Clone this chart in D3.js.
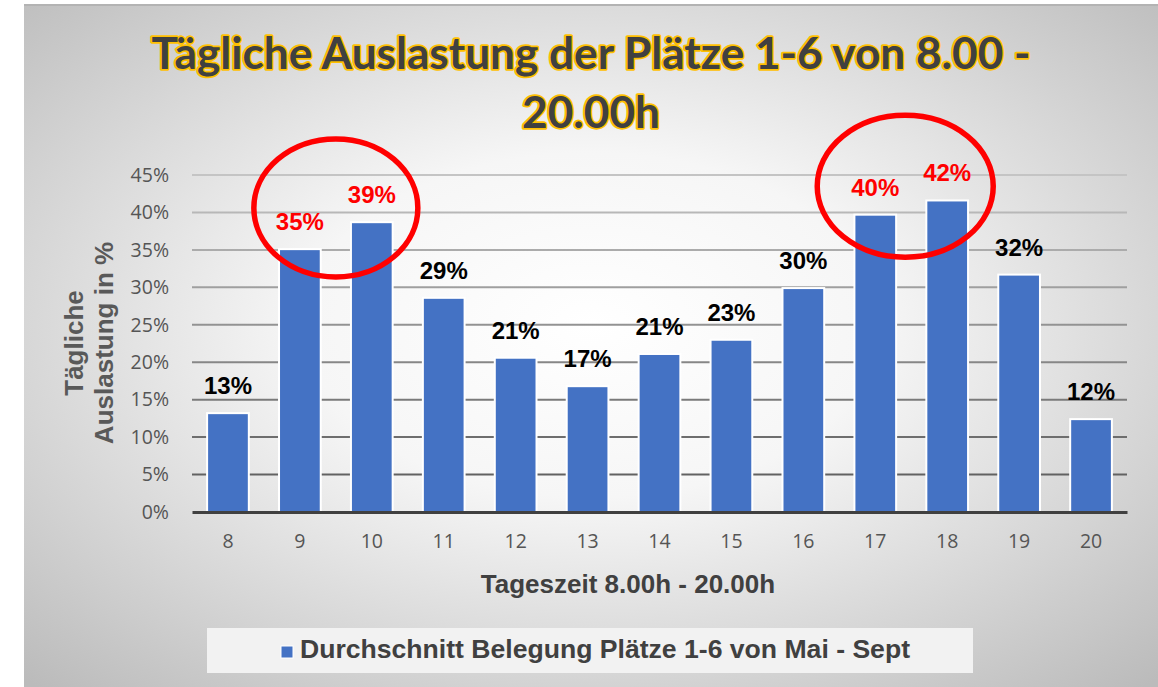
<!DOCTYPE html>
<html>
<head>
<meta charset="utf-8">
<script src="https://cdn.jsdelivr.net/npm/d3@7"></script>
<style>
  html, body { margin: 0; padding: 0; background: #ffffff; }
  svg { display: block; }
</style>
</head>
<body>
<svg id="chart" width="1158" height="687"></svg>
<script>
// data ---------------------------------------------
const hours = [8, 9, 10, 11, 12, 13, 14, 15, 16, 17, 18, 19, 20];
const occupancy = [0.132, 0.351, 0.387, 0.286, 0.206, 0.168, 0.211, 0.230, 0.299, 0.397, 0.416, 0.317, 0.124];
const highlighted = [9, 10, 17, 18];
const circledGroups = [[9, 10], [17, 18]];
const yTicks = [0, 0.05, 0.10, 0.15, 0.20, 0.25, 0.30, 0.35, 0.40, 0.45];
const titleLines = ['Tägliche Auslastung der Plätze 1-6 von 8.00 -', '20.00h'];
const yTitleLines = ['Tägliche', 'Auslastung in %'];
const xTitle = 'Tageszeit 8.00h - 20.00h';
const seriesName = 'Durchschnitt Belegung Plätze 1-6 von Mai - Sept';

const area = { left: 24, top: 4, right: 1158, bottom: 687 };
const plot = { left: 192, right: 1127, top: 175, bottom: 512 };
const arial = 'Arial, "Liberation Sans", sans-serif';
const tickFont = '"Open Sans", "Noto Sans", sans-serif';

const svg = d3.select('#chart');
const defs = svg.append('defs');

const bg = defs.append('radialGradient').attr('id', 'bgGrad')
    .attr('cx', '0.5').attr('cy', '0.47').attr('r', '0.72');
bg.append('stop').attr('offset', '0').attr('stop-color', '#ffffff');
bg.append('stop').attr('offset', '0.35').attr('stop-color', '#f6f6f6');
bg.append('stop').attr('offset', '1').attr('stop-color', '#bbbbbb');

const gridGrad = defs.append('linearGradient').attr('id', 'gridGrad')
    .attr('gradientUnits', 'userSpaceOnUse')
    .attr('x1', 0).attr('x2', 0).attr('y1', plot.top).attr('y2', plot.bottom);
gridGrad.append('stop').attr('offset', '0').attr('stop-color', '#c4c4c4');
gridGrad.append('stop').attr('offset', '1').attr('stop-color', '#555555');

// chart area
svg.append('rect')
    .attr('x', area.left).attr('y', area.top)
    .attr('width', area.right - area.left).attr('height', area.bottom - area.top)
    .attr('fill', 'url(#bgGrad)');
svg.append('line')
    .attr('x1', area.left).attr('x2', area.right)
    .attr('y1', area.top + 1).attr('y2', area.top + 1)
    .attr('stroke', '#b3b3b3').attr('stroke-width', 2);

// scales
const x = d3.scaleBand().domain(hours).range([plot.left, plot.right])
    .paddingInner(0.42).paddingOuter(0.21);
const y = d3.scaleLinear().domain([0, 0.45]).range([plot.bottom, plot.top]);

// title
const titleTexts = svg.append('g').selectAll('text').data(titleLines).join('text')
    .attr('x', (area.left + area.right) / 2)
    .attr('y', (d, i) => 69 + i * 59)
    .attr('text-anchor', 'middle')
    .style('font-family', 'Lato, "Open Sans", sans-serif')
    .style('font-weight', 700)
    .style('font-size', '43px')
    .attr('fill', '#404040')
    .attr('stroke', '#ffc000')
    .attr('stroke-width', 3.5)
    .attr('stroke-linejoin', 'round')
    .attr('paint-order', 'stroke')
    .text(d => d);
const squeeze = 879 / titleTexts.nodes()[0].getComputedTextLength();
titleTexts.each(function() {
    const len = this.getComputedTextLength();
    d3.select(this).attr('textLength', len * squeeze).attr('lengthAdjust', 'spacingAndGlyphs');
});

// gridlines
svg.append('g').selectAll('line').data(yTicks.filter(t => t > 0)).join('line')
    .attr('x1', plot.left).attr('x2', plot.right)
    .attr('y1', d => y(d)).attr('y2', d => y(d))
    .attr('stroke', 'url(#gridGrad)').attr('stroke-width', 2);

// y axis labels
const yAxis = d3.axisLeft(y).tickValues(yTicks).tickFormat(d3.format('.0%')).tickSize(0).tickPadding(23);
const yG = svg.append('g').attr('transform', `translate(${plot.left},0)`).call(yAxis);
yG.select('.domain').remove();
yG.selectAll('text')
    .style('font-family', tickFont).style('font-size', '19.5px').attr('fill', '#555555');

// bars
svg.append('g').selectAll('rect').data(hours).join('rect')
    .attr('x', d => x(d))
    .attr('width', x.bandwidth())
    .attr('y', (d, i) => y(occupancy[i]))
    .attr('height', (d, i) => y(0) - y(occupancy[i]))
    .attr('fill', '#4472c4')
    .attr('stroke', '#ffffff')
    .attr('stroke-width', 2);

// x axis
const xAxis = d3.axisBottom(x).tickSize(0).tickPadding(22);
const xG = svg.append('g').attr('transform', `translate(0,${plot.bottom})`).call(xAxis);
xG.select('.domain').attr('stroke', '#404040').attr('stroke-width', 3);
xG.selectAll('text')
    .style('font-family', tickFont).style('font-size', '19.5px').attr('fill', '#555555');

// data labels
svg.append('g').selectAll('text').data(hours).join('text')
    .attr('x', d => x(d) + x.bandwidth() / 2)
    .attr('y', (d, i) => y(occupancy[i]) - 19)
    .attr('text-anchor', 'middle')
    .style('font-family', arial).style('font-weight', 700).style('font-size', '24px')
    .attr('fill', d => highlighted.includes(d) ? '#ff0000' : '#000000')
    .text((d, i) => d3.format('.0%')(occupancy[i]));

// circles around peak hours
const ellipseShape = [{ dy: 0.406, rx: 82, ry: 69, dx: 0 }, { dy: 0.435, rx: 88, ry: 71, dx: -6 }];
svg.append('g').selectAll('ellipse').data(circledGroups).join('ellipse')
    .attr('cx', (g, i) => d3.mean(g, h => x(h) + x.bandwidth() / 2) + ellipseShape[i].dx)
    .attr('cy', (g, i) => y(ellipseShape[i].dy))
    .attr('rx', (g, i) => ellipseShape[i].rx)
    .attr('ry', (g, i) => ellipseShape[i].ry)
    .attr('fill', 'none').attr('stroke', '#ff0000').attr('stroke-width', 5.5);

// axis titles
svg.append('text')
    .attr('x', 628).attr('y', 593)
    .attr('text-anchor', 'middle')
    .style('font-family', arial).style('font-weight', 700).style('font-size', '26px')
    .attr('fill', '#404040')
    .text(xTitle);

svg.append('g').attr('transform', 'translate(0,343) rotate(-90)')
    .selectAll('text').data(yTitleLines).join('text')
    .attr('x', 0).attr('y', (d, i) => 83 + i * 30)
    .attr('text-anchor', 'middle')
    .style('font-family', arial).style('font-weight', 700).style('font-size', '26px')
    .attr('fill', '#595959')
    .text(d => d);

// legend
const legend = svg.append('g');
legend.append('rect')
    .attr('x', 207).attr('y', 628).attr('width', 766).attr('height', 45)
    .attr('fill', '#f2f2f2');
legend.append('rect')
    .attr('x', 281).attr('y', 646).attr('width', 12).attr('height', 12)
    .attr('fill', '#4472c4').attr('stroke', '#ffffff').attr('stroke-width', 1);
legend.append('text')
    .attr('x', 300).attr('y', 658)
    .style('font-family', arial).style('font-weight', 700).style('font-size', '25px')
    .attr('textLength', 610).attr('lengthAdjust', 'spacingAndGlyphs')
    .attr('fill', '#404040')
    .text(seriesName);
</script>
</body>
</html>
